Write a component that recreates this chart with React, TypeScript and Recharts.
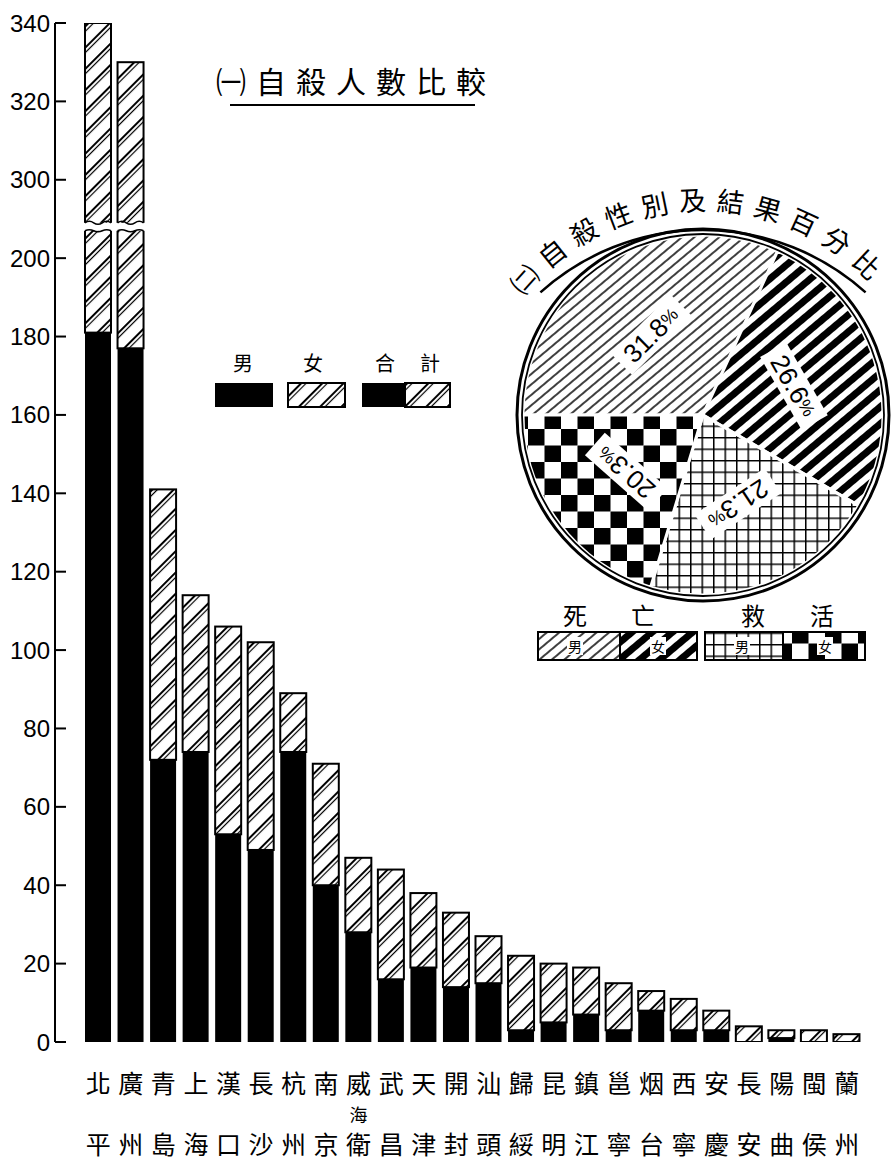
import React from "react";
import { BarChart, Bar, XAxis, YAxis, PieChart, Pie, Cell } from "recharts";

// (一) 自殺人數比較 — per city, male / female
const cities = [
  "北平", "廣州", "青島", "上海", "漢口", "長沙", "杭州", "南京", "威海衛", "武昌", "天津", "開封",
  "汕頭", "歸綏", "昆明", "鎮江", "邕寧", "烟台", "西寧", "安慶", "長安", "陽曲", "閩侯", "蘭州",
];
const maleCounts = [181, 177, 72, 74, 53, 49, 74, 40, 28, 16, 19, 14, 15, 3, 5, 7, 3, 8, 3, 3, 0, 1, 0, 0];
const femaleCounts = [159, 153, 69, 40, 53, 53, 15, 31, 19, 28, 19, 19, 12, 19, 15, 12, 12, 5, 8, 5, 4, 2, 3, 2];

// broken value axis: 200 is followed directly by 300
const yTickPositions = [0, 20, 40, 60, 80, 100, 120, 140, 160, 180, 200, 220, 240, 260];
const yTickLabels = ["0", "20", "40", "60", "80", "100", "120", "140", "160", "180", "200", "300", "320", "340"];
const AXIS_CUT = 80;
const BREAK_AT = 208;

// (二) 自殺性別及結果百分比
const pieNames = ["死亡 男", "死亡 女", "救活 男", "救活 女"];
const piePercents = [31.8, 26.6, 21.3, 20.3];
const pieTitle = "㈡自殺性別及結果百分比";

const CJK = '"Noto Sans CJK TC", "Noto Sans CJK SC", sans-serif';
const NUM = '"Liberation Sans", Arial, sans-serif';
const RAD = Math.PI / 180;
const PIE_CX = 703;
const PIE_CY = 415;
const PIE_R = 180;

const barData = cities.map((city, i) => {
  const total = maleCounts[i] + femaleCounts[i];
  const cut = total > 250 ? AXIS_CUT : 0;
  return {
    city,
    male: maleCounts[i],
    female: femaleCounts[i],
    total,
    femaleShown: femaleCounts[i] - cut,
    totalShown: total - cut,
  };
});

const pieData = pieNames.map((name, i) => ({ name, value: piePercents[i] }));
const pieFills = ["deathMale", "deathFemale", "rescueMale", "rescueFemale"];

const patternDefs = (p: string) => [
  <pattern key="bh" id={`${p}-barHatch`} patternUnits="userSpaceOnUse" width={16} height={15} patternTransform="rotate(-45)">
    <rect width={16} height={15} fill="#fff" />
    <line x1={0} x2={16} y1={4} y2={4} stroke="#000" strokeWidth={2} />
    <line x1={0} x2={16} y1={7.5} y2={7.5} stroke="#000" strokeWidth={1.2} />
  </pattern>,
  <pattern key="dm" id={`${p}-deathMale`} patternUnits="userSpaceOnUse" width={10} height={8} patternTransform="rotate(-40)">
    <rect width={10} height={8} fill="#fff" />
    <line x1={0} x2={10} y1={4} y2={4} stroke="#000" strokeWidth={1.5} />
  </pattern>,
  <pattern key="df" id={`${p}-deathFemale`} patternUnits="userSpaceOnUse" width={10} height={13} patternTransform="rotate(-40)">
    <rect width={10} height={13} fill="#fff" />
    <rect x={0} y={3} width={10} height={7} fill="#000" />
  </pattern>,
  <pattern key="rm" id={`${p}-rescueMale`} patternUnits="userSpaceOnUse" width={11.5} height={11.5}>
    <rect width={11.5} height={11.5} fill="#fff" />
    <path d="M0 0.75 H11.5 M0.75 0 V11.5" stroke="#000" strokeWidth={1.5} />
  </pattern>,
  <pattern key="rf" id={`${p}-rescueFemale`} patternUnits="userSpaceOnUse" width={33} height={33}>
    <rect width={33} height={33} fill="#fff" />
    <rect x={0} y={0} width={16.5} height={16.5} fill="#000" />
    <rect x={16.5} y={16.5} width={16.5} height={16.5} fill="#000" />
  </pattern>,
];

const YTick = (props: any) => {
  const { x, y, payload } = props;
  const label = yTickLabels[yTickPositions.indexOf(payload.value)];
  return (
    <g>
      <line x1={x + 5} x2={x + 16} y1={y} y2={y} stroke="#000" strokeWidth={2} />
      <text x={x} y={y} textAnchor="end" dominantBaseline="central" fontSize={24} fontFamily={NUM} fill="#000">
        {label}
      </text>
    </g>
  );
};

const XTick = (props: any) => {
  const { x, y, payload } = props;
  const chars = Array.from(String(payload.value));
  const mids = chars.slice(1, -1);
  return (
    <g fontFamily={CJK} fill="#000" textAnchor="middle">
      <text x={x} y={y + 40} dominantBaseline="central" fontSize={25}>{chars[0]}</text>
      {mids.map((c, k) => (
        <text key={k} x={x} y={y + 72} dominantBaseline="central" fontSize={18}>{c}</text>
      ))}
      <text x={x} y={y + 101} dominantBaseline="central" fontSize={25}>{chars[chars.length - 1]}</text>
    </g>
  );
};

// female part of the stack, with the wavy cut on bars that run past the axis break
const BrokenBar = (props: any) => {
  const { x, y, width, height, fill, payload } = props;
  if (!height || height <= 0) return null;
  const parts = [
    <rect key="r" x={x} y={y} width={width} height={height} fill={fill} stroke="#000" strokeWidth={2} />,
  ];
  if (payload && payload.total > 250) {
    const unit = height / payload.femaleShown;
    const yb = y + (payload.totalShown - BREAK_AT) * unit;
    const w3 = width / 3;
    parts.push(<rect key="g" x={x - 3} y={yb - 4} width={width + 6} height={8} fill="#fff" />);
    parts.push(
      <path key="w1" d={`M${x},${yb - 4} q${w3 / 2},-3 ${w3},0 t${w3},0 t${w3},0`} fill="none" stroke="#000" strokeWidth={1.6} />
    );
    parts.push(
      <path key="w2" d={`M${x},${yb + 4} q${w3 / 2},-2 ${w3},0 t${w3},0 t${w3},0`} fill="none" stroke="#000" strokeWidth={1.6} />
    );
  }
  return <g>{parts}</g>;
};

const renderPieLabel = (props: any) => {
  const { cx, cy, midAngle, outerRadius } = props;
  const value = props.value ?? props.payload?.value;
  const r = outerRadius * 0.53;
  const x = cx + r * Math.cos(-midAngle * RAD);
  const y = cy + r * Math.sin(-midAngle * RAD);
  const rot = -midAngle + 78;
  return (
    <g transform={`translate(${x},${y}) rotate(${rot})`}>
      <rect x={-42} y={-15} width={84} height={30} fill="#fff" />
      <text x={0} y={0} textAnchor="middle" dominantBaseline="central" fontSize={26} fontFamily={NUM} fill="#000">
        {value}
        <tspan fontSize={18}>%</tspan>
      </text>
    </g>
  );
};

const Decorations = () => {
  // title characters set round an arc above the pie
  const tr = 241;
  const tcy = 440;
  const t0 = 138;
  const t1 = 47;
  const titleChars = Array.from(pieTitle);
  const step = (t0 - t1) / (titleChars.length - 1);
  const ar = 243;
  const acy = 473;
  const b0 = 132 * RAD;
  const b1 = 48 * RAD;
  const arcLine = `M${PIE_CX + ar * Math.cos(b0)},${acy - ar * Math.sin(b0)} A${ar},${ar} 0 0 1 ${PIE_CX + ar * Math.cos(b1)},${acy - ar * Math.sin(b1)}`;
  return (
    <svg width={891} height={1164} style={{ position: "absolute", left: 0, top: 0, pointerEvents: "none" }}>
      <defs>{patternDefs("d")}</defs>

      {/* bar chart title */}
      <text x={216} y={80} dominantBaseline="central" fontSize={30} letterSpacing={10} fontFamily={CJK} fill="#000">
        ㈠自殺人數比較
      </text>
      <line x1={230} x2={475} y1={105} y2={105} stroke="#000" strokeWidth={2} />

      {/* bar legend */}
      <g fontFamily={CJK} fontSize={20} textAnchor="middle" fill="#000">
        <text x={243} y={362} dominantBaseline="central">男</text>
        <text x={313} y={362} dominantBaseline="central">女</text>
        <text x={385} y={362} dominantBaseline="central">合</text>
        <text x={430} y={362} dominantBaseline="central">計</text>
      </g>
      <rect x={215} y={383} width={58} height={24} fill="#000" />
      <rect x={288} y={383} width={57} height={24} fill="url(#d-barHatch)" stroke="#000" strokeWidth={2} />
      <rect x={405} y={383} width={45} height={24} fill="url(#d-barHatch)" stroke="#000" strokeWidth={2} />
      <rect x={362} y={383} width={43} height={24} fill="#000" />

      {/* pie rings and title */}
      <circle cx={PIE_CX} cy={PIE_CY} r={PIE_R + 1} fill="none" stroke="#000" strokeWidth={1.8} />
      <circle cx={PIE_CX} cy={PIE_CY} r={PIE_R + 6} fill="none" stroke="#000" strokeWidth={3} />
      <path d={arcLine} fill="none" stroke="#000" strokeWidth={2.5} />
      <g fontFamily={CJK} fontSize={27} fill="#000" textAnchor="middle">
        {titleChars.map((c, k) => {
          const th = t0 - k * step;
          const cx = PIE_CX + tr * Math.cos(th * RAD);
          const cy = tcy - tr * Math.sin(th * RAD);
          return (
            <text key={k} x={cx} y={cy} dominantBaseline="central" transform={`rotate(${90 - th} ${cx} ${cy})`}>
              {c}
            </text>
          );
        })}
      </g>

      {/* pie legend */}
      <g fontFamily={CJK} fontSize={24} textAnchor="middle" fill="#000">
        <text x={575} y={614} dominantBaseline="central">死</text>
        <text x={643} y={614} dominantBaseline="central">亡</text>
        <text x={753} y={614} dominantBaseline="central">救</text>
        <text x={822} y={614} dominantBaseline="central">活</text>
      </g>
      <rect x={538} y={632} width={82} height={28} fill="url(#d-deathMale)" stroke="#000" strokeWidth={2} />
      <rect x={620} y={632} width={77} height={28} fill="url(#d-deathFemale)" stroke="#000" strokeWidth={2} />
      <rect x={705} y={632} width={78} height={28} fill="url(#d-rescueMale)" stroke="#000" strokeWidth={2} />
      <rect x={783} y={632} width={82} height={28} fill="url(#d-rescueFemale)" stroke="#000" strokeWidth={2} />
      <rect x={567} y={637} width={16} height={18} fill="#fff" />
      <rect x={650} y={637} width={16} height={18} fill="#fff" />
      <rect x={734} y={637} width={16} height={18} fill="#fff" />
      <rect x={817} y={637} width={16} height={18} fill="#fff" />
      <g fontFamily={CJK} fontSize={14} textAnchor="middle" fill="#000">
        <text x={575} y={646} dominantBaseline="central">男</text>
        <text x={658} y={646} dominantBaseline="central">女</text>
        <text x={742} y={646} dominantBaseline="central">男</text>
        <text x={825} y={646} dominantBaseline="central">女</text>
      </g>
    </svg>
  );
};

export default function App() {
  return (
    <div style={{ position: "absolute", left: 0, top: 0, width: 891, height: 1164, background: "#fff" }}>
      <div style={{ position: "absolute", left: 0, top: 0 }}>
        <BarChart width={891} height={1164} data={barData} margin={{ top: 23, right: 28, bottom: 0, left: 8 }} barSize={26}>
          <defs>{patternDefs("b")}</defs>
          <XAxis
            dataKey="city"
            axisLine={false}
            tickLine={false}
            tickSize={0}
            tickMargin={0}
            interval={0}
            height={122}
            padding={{ left: 27, right: 0 }}
            tick={<XTick />}
          />
          <YAxis
            type="number"
            domain={[0, 260]}
            ticks={yTickPositions}
            allowDataOverflow
            width={47}
            tickSize={0}
            tickMargin={5}
            tickLine={false}
            axisLine={{ stroke: "#000", strokeWidth: 2 }}
            tick={<YTick />}
          />
          <Bar dataKey="male" stackId="s" fill="#000" isAnimationActive={false} />
          <Bar dataKey="femaleShown" stackId="s" fill="url(#b-barHatch)" shape={<BrokenBar />} isAnimationActive={false} />
        </BarChart>
      </div>
      <div style={{ position: "absolute", left: 0, top: 0, pointerEvents: "none" }}>
        <PieChart width={891} height={1164} margin={{ top: 0, right: 0, bottom: 0, left: 0 }}>
          <defs>{patternDefs("p")}</defs>
          <Pie
            data={pieData}
            dataKey="value"
            nameKey="name"
            cx={PIE_CX}
            cy={PIE_CY}
            innerRadius={0}
            outerRadius={PIE_R}
            startAngle={180}
            endAngle={-180}
            stroke="#fff"
            strokeWidth={3}
            label={renderPieLabel}
            labelLine={false}
            isAnimationActive={false}
          >
            {pieData.map((d, i) => (
              <Cell key={d.name} fill={`url(#p-${pieFills[i]})`} />
            ))}
          </Pie>
        </PieChart>
      </div>
      <Decorations />
    </div>
  );
}
